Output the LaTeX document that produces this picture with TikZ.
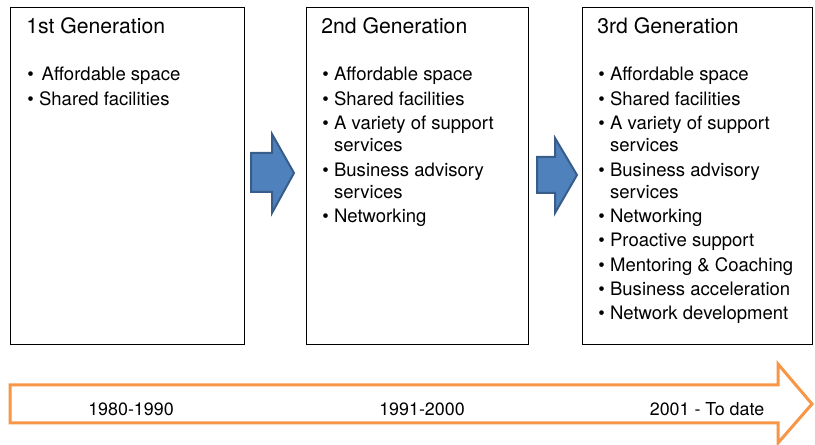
\documentclass[tikz,border=0pt]{standalone}
\usepackage{fontspec}
\setmainfont{TeX Gyre Heros}
\usepackage{xcolor}

\definecolor{genblue}{RGB}{79,129,189}
\definecolor{genblueline}{RGB}{56,93,138}
\definecolor{timeorange}{RGB}{247,150,70}

\tikzset{
  genbox/.style={draw=black, line width=0.75pt},
  gentitle/.style={anchor=base west, inner sep=0pt, font=\fontsize{15.9}{19}\selectfont},
  genlist/.style={anchor=base west, inner sep=0pt, font=\fontsize{13.9}{16.7}\selectfont},
  stagearrow/.style={fill=genblue, draw=genblueline, line width=1.5pt, line join=miter},
  timearrow/.style={draw=timeorange, line width=2.25pt, fill=white, line join=miter},
  yearlabel/.style={anchor=base, inner sep=0pt, font=\fontsize{13.4}{16}\selectfont},
}
\newcommand{\genitems}[1]{\begin{tabular}[t]{@{}l@{\hspace{4pt}}l@{}}#1\end{tabular}}

\begin{document}
\begin{tikzpicture}[x=0.75pt,y=0.75pt,yscale=-1,xscale=1]
\useasboundingbox (0,0) rectangle (815,445);

%Shape: Rectangle
\draw [genbox] (10,8) rectangle (244,345) ;
%Shape: Rectangle
\draw [genbox] (306,8) rectangle (528,345) ;
%Shape: Rectangle
\draw [genbox] (582,8) rectangle (812,345) ;

%Shape: Right Arrow
\draw [stagearrow] (251,153) -- (272,153) -- (272,134) -- (294,173) -- (272,213) -- (272,192) -- (251,192) -- cycle ;
%Shape: Right Arrow
\draw [stagearrow] (537,157) -- (555,157) -- (555,138) -- (577,175) -- (555,213) -- (555,193) -- (537,193) -- cycle ;

%Shape: Right Arrow
\draw [timearrow] (10,385) -- (778,385) -- (778,364) -- (812,404) -- (778,443) -- (778,423) -- (10,423) -- cycle ;

% Text Node
\node [gentitle] (gen1) at (26,34) {1st Generation};
% Text Node
\node [gentitle] (gen2) at (321,34) {2nd Generation};
% Text Node
\node [gentitle] (gen3) at (597,34) {3rd Generation};

% Text Node
\node [genlist] (gen1list) at (27,81) {\genitems{
  \textbullet & \hspace{2pt}Affordable space\\[1.5pt]
  \textbullet & Shared facilities}};
% Text Node
\node [genlist] (gen2list) at (322,81) {\genitems{
  \textbullet & Affordable space\\[1.5pt]
  \textbullet & Shared facilities\\[1.5pt]
  \textbullet & A variety of support\\
              & services\\[1.5pt]
  \textbullet & Business advisory\\
              & services\\[1.5pt]
  \textbullet & Networking}};
% Text Node
\node [genlist] (gen3list) at (598,81) {\genitems{
  \textbullet & Affordable space\\[1.5pt]
  \textbullet & Shared facilities\\[1.5pt]
  \textbullet & A variety of support\\
              & services\\[1.5pt]
  \textbullet & Business advisory\\
              & services\\[1.5pt]
  \textbullet & Networking\\[1.5pt]
  \textbullet & Proactive support\\[1.5pt]
  \textbullet & Mentoring \& Coaching\\[1.5pt]
  \textbullet & Business acceleration\\[1.5pt]
  \textbullet & Network development}};

% Text Node
\node [yearlabel] (era1) at (131,416) {1980-1990};
% Text Node
\node [yearlabel] (era2) at (422,416) {1991-2000};
% Text Node
\node [yearlabel] (era3) at (707,416) {2001 - To date};

\end{tikzpicture}
\end{document}
